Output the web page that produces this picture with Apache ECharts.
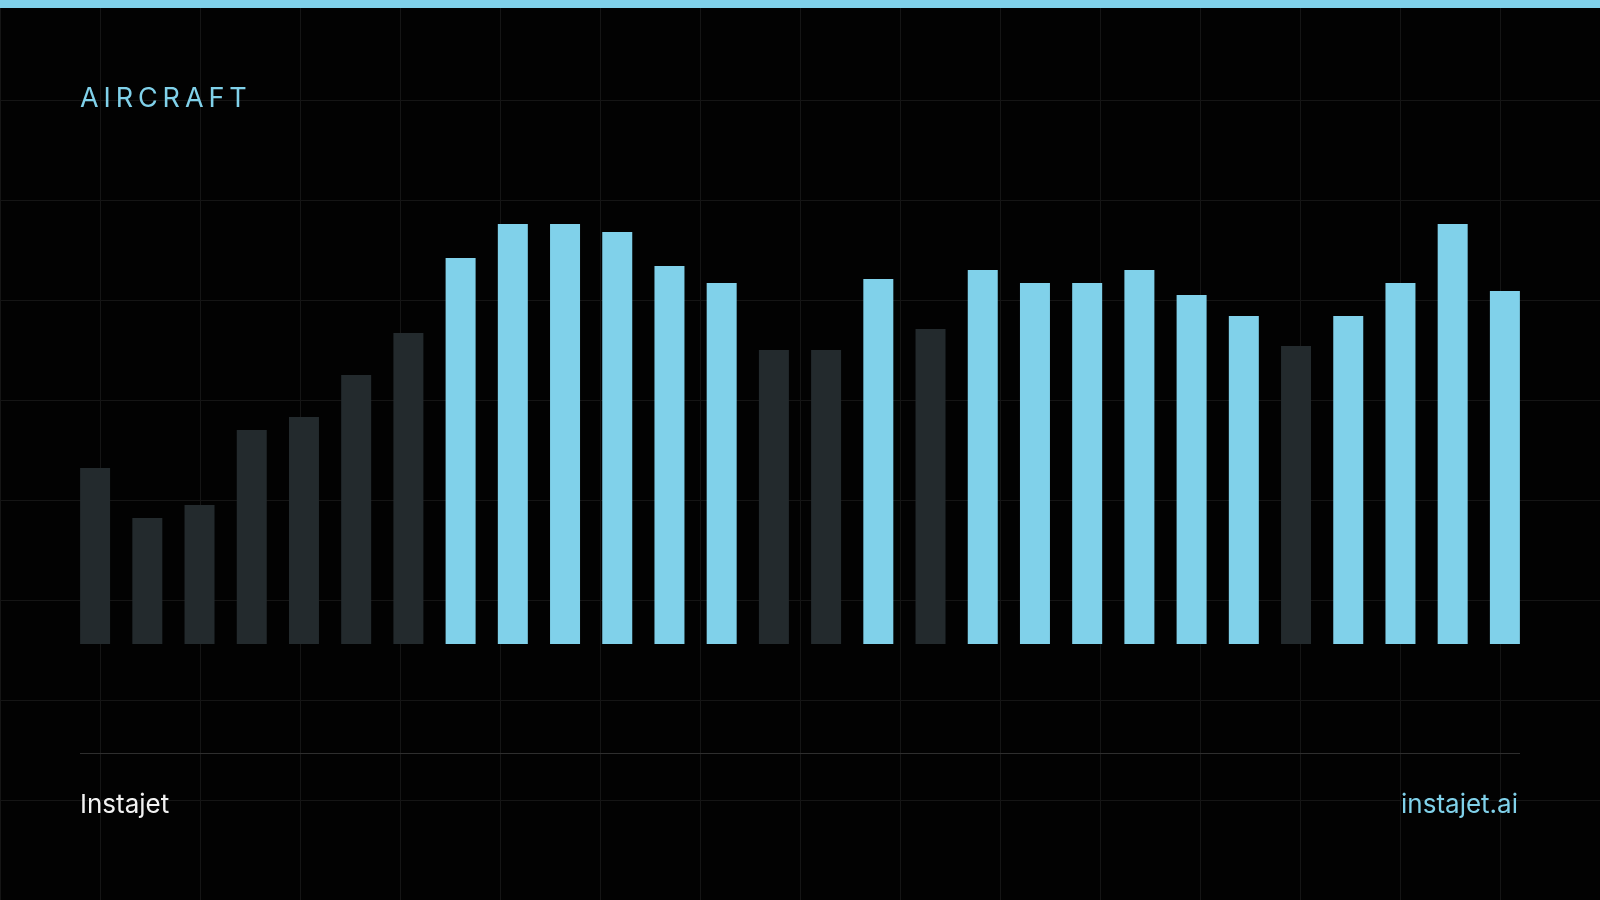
<!DOCTYPE html>
<html lang="en">
<head>
    <meta charset="UTF-8">
    <title>Aircraft</title>
    <script src="https://cdn.jsdelivr.net/npm/echarts@6/dist/echarts.min.js"></script>
    <style>
        html, body {
            margin: 0;
            padding: 0;
            background: #020202;
        }
        /* faint 100px grid behind the chart */
        #chart {
            width: 1600px;
            height: 900px;
            background-color: #020202;
            background-image:
                linear-gradient(to right, #151515 1px, transparent 1px),
                linear-gradient(to bottom, #151515 1px, transparent 1px);
            background-size: 100px 100px;
        }
    </style>
</head>
<body>
<div id="chart"></div>
<script>
    // periods shown on the x axis (axis itself is hidden)
    var periods = ['W1', 'W2', 'W3', 'W4', 'W5', 'W6', 'W7', 'W8', 'W9', 'W10',
        'W11', 'W12', 'W13', 'W14', 'W15', 'W16', 'W17', 'W18', 'W19', 'W20',
        'W21', 'W22', 'W23', 'W24', 'W25', 'W26', 'W27', 'W28'];
    // aircraft values per period
    var aircraft = [176, 126, 139, 214, 227, 269, 311, 386, 420, 420,
        412, 378, 361, 294, 294, 365, 315, 374, 361, 361,
        374, 349, 328, 298, 328, 361, 420, 353];
    // bars at or above this get the highlight colour
    var highlightFrom = 320;

    var lightBlue = '#80d1ea';
    var darkBar = '#232a2d';

    var barData = [];
    for (var i = 0; i < aircraft.length; i++) {
        barData.push({
            value: aircraft[i],
            itemStyle: {color: aircraft[i] >= highlightFrom ? lightBlue : darkBar}
        });
    }

    var chart = echarts.init(document.getElementById('chart'), null, {renderer: 'canvas'});
    chart.setOption({
        backgroundColor: 'transparent',
        animation: false,
        grid: {left: 69, right: 69, top: 144, bottom: 256},
        xAxis: {
            type: 'category',
            data: periods,
            show: false
        },
        yAxis: {
            type: 'value',
            min: 0,
            max: 500,
            show: false,
            splitLine: {show: false}
        },
        series: [{
            name: 'Aircraft',
            type: 'bar',
            barWidth: 30,
            data: barData
        }],
        graphic: [
            // top accent strip
            {type: 'rect', left: 0, top: 0, shape: {width: 1600, height: 8}, style: {fill: lightBlue}},
            {
                type: 'text', left: 80, top: 85,
                style: {
                    text: 'A\u2009I\u2009R\u2009C\u2009R\u2009A\u2009F\u2009T',
                    fill: lightBlue,
                    font: '400 27px Inter, "Noto Sans", sans-serif'
                }
            },
            // footer rule
            {
                type: 'line', shape: {x1: 80, y1: 753.5, x2: 1520, y2: 753.5},
                style: {stroke: '#2e2e2e', lineWidth: 1}
            },
            {
                type: 'text', left: 80, top: 792,
                style: {
                    text: 'Instajet',
                    fill: '#f2f2f2',
                    font: '400 26px Inter, "Noto Sans", sans-serif'
                }
            },
            {
                type: 'text', right: 82, top: 792,
                style: {
                    text: 'instajet.ai',
                    fill: lightBlue,
                    font: '400 26px Inter, "Noto Sans", sans-serif'
                }
            }
        ]
    });
</script>
</body>
</html>
